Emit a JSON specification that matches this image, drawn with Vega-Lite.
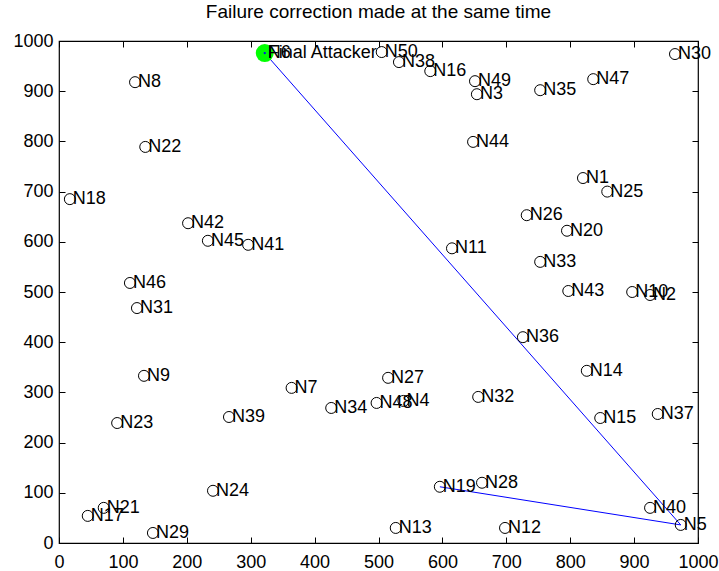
{
  "$schema": "https://vega.github.io/schema/vega-lite/v6.json",
  "width": 639,
  "height": 502,
  "autosize": "none",
  "padding": {"left": 59, "top": 41, "right": 21, "bottom": 28},
  "background": "white",
  "config": {"font": "Liberation Sans", "view": {"stroke": "black", "strokeWidth": 1.2}},
  "title": {"text": "Failure correction made at the same time", "fontSize": 19, "fontWeight": "normal", "color": "black", "offset": 10, "font": "Liberation Sans"},
  "datasets": {
    "nodes": [
      {"label": "N1", "x": 820, "y": 727},
      {"label": "N2", "x": 925, "y": 494},
      {"label": "N3", "x": 654, "y": 894},
      {"label": "N4", "x": 539, "y": 283},
      {"label": "N5", "x": 973, "y": 36},
      {"label": "N6", "x": 322, "y": 976},
      {"label": "N7", "x": 364, "y": 309},
      {"label": "N8", "x": 119, "y": 918},
      {"label": "N9", "x": 133, "y": 333},
      {"label": "N10", "x": 897, "y": 500},
      {"label": "N11", "x": 615, "y": 587},
      {"label": "N12", "x": 698, "y": 30},
      {"label": "N13", "x": 527, "y": 30},
      {"label": "N14", "x": 826, "y": 343},
      {"label": "N15", "x": 847, "y": 249},
      {"label": "N16", "x": 581, "y": 940},
      {"label": "N17", "x": 45, "y": 54},
      {"label": "N18", "x": 17, "y": 685},
      {"label": "N19", "x": 596, "y": 112},
      {"label": "N20", "x": 795, "y": 622},
      {"label": "N21", "x": 70, "y": 70},
      {"label": "N22", "x": 135, "y": 789},
      {"label": "N23", "x": 91, "y": 239},
      {"label": "N24", "x": 241, "y": 104},
      {"label": "N25", "x": 858, "y": 700},
      {"label": "N26", "x": 732, "y": 653},
      {"label": "N27", "x": 515, "y": 329},
      {"label": "N28", "x": 662, "y": 120},
      {"label": "N29", "x": 147, "y": 20},
      {"label": "N30", "x": 964, "y": 974},
      {"label": "N31", "x": 122, "y": 468},
      {"label": "N32", "x": 656, "y": 291},
      {"label": "N33", "x": 753, "y": 560},
      {"label": "N34", "x": 426, "y": 269},
      {"label": "N35", "x": 753, "y": 902},
      {"label": "N36", "x": 726, "y": 410},
      {"label": "N37", "x": 937, "y": 257},
      {"label": "N38", "x": 532, "y": 958},
      {"label": "N39", "x": 266, "y": 251},
      {"label": "N40", "x": 925, "y": 70},
      {"label": "N41", "x": 296, "y": 594},
      {"label": "N42", "x": 202, "y": 637},
      {"label": "N43", "x": 797, "y": 502},
      {"label": "N44", "x": 648, "y": 799},
      {"label": "N45", "x": 233, "y": 602},
      {"label": "N46", "x": 111, "y": 518},
      {"label": "N47", "x": 836, "y": 924},
      {"label": "N48", "x": 497, "y": 279},
      {"label": "N49", "x": 651, "y": 920},
      {"label": "N50", "x": 505, "y": 978}
    ],
    "path": [
      {"step": 1, "x": 322, "y": 976},
      {"step": 2, "x": 973, "y": 36},
      {"step": 3, "x": 596, "y": 112}
    ],
    "attacker": [
      {"label": "Final Attacker", "x": 322, "y": 976}
    ]
  },
  "layer": [
    {
      "data": {"name": "path"},
      "mark": {"type": "line", "color": "#0000ff", "strokeWidth": 1},
      "encoding": {
        "x": {"field": "x", "type": "quantitative", "scale": {"domain": [0, 1000], "nice": false},
              "axis": {"orient": "bottom", "values": [0,100,200,300,400,500,600,700,800,900,1000], "format": "d", "title": null, "grid": false, "domain": false, "offset": -6, "ticks": true, "tickColor": "black", "tickSize": 6, "tickWidth": 1, "tickOpacity": 1, "labelPadding": 10, "labelFontSize": 18, "labelColor": "black", "labelFont": "Liberation Sans", "labelFlush": false}},
        "y": {"field": "y", "type": "quantitative", "scale": {"domain": [0, 1000], "nice": false},
              "axis": {"orient": "left", "values": [0,100,200,300,400,500,600,700,800,900,1000], "format": "d", "title": null, "grid": false, "domain": false, "offset": -6, "ticks": true, "tickColor": "black", "tickSize": 6, "tickWidth": 1, "tickOpacity": 1, "labelPadding": 6, "labelFontSize": 18, "labelColor": "black", "labelFont": "Liberation Sans", "labelFlush": false}},
        "order": {"field": "step"}
      }
    },
    {
      "data": {"name": "nodes"},
      "mark": {"type": "point", "shape": "circle", "filled": false, "stroke": "black", "strokeWidth": 1, "size": 121, "opacity": 1},
      "encoding": {
        "x": {"field": "x", "type": "quantitative",
              "axis": {"orient": "top", "values": [0,100,200,300,400,500,600,700,800,900,1000], "title": null, "grid": false, "labels": false, "domain": false, "offset": -6, "ticks": true, "tickColor": "black", "tickSize": 6, "tickWidth": 1, "tickOpacity": 1}},
        "y": {"field": "y", "type": "quantitative",
              "axis": {"orient": "right", "values": [0,100,200,300,400,500,600,700,800,900,1000], "title": null, "grid": false, "labels": false, "domain": false, "offset": -6, "ticks": true, "tickColor": "black", "tickSize": 6, "tickWidth": 1, "tickOpacity": 1}}
      }
    },
    {
      "data": {"name": "attacker"},
      "mark": {"type": "point", "shape": "circle", "filled": true, "color": "#00ff00", "size": 324, "opacity": 1},
      "encoding": {
        "x": {"field": "x", "type": "quantitative", "axis": null},
        "y": {"field": "y", "type": "quantitative", "axis": null}
      }
    },
    {
      "data": {"name": "attacker"},
      "mark": {"type": "point", "shape": "circle", "filled": true, "color": "#0000ff", "size": 5, "opacity": 1},
      "encoding": {
        "x": {"field": "x", "type": "quantitative", "axis": null},
        "y": {"field": "y", "type": "quantitative", "axis": null}
      }
    },
    {
      "data": {"name": "nodes"},
      "mark": {"type": "text", "align": "left", "baseline": "middle", "dx": 3, "fontSize": 18, "color": "black", "font": "Liberation Sans"},
      "encoding": {
        "x": {"field": "x", "type": "quantitative", "axis": null},
        "y": {"field": "y", "type": "quantitative", "axis": null},
        "text": {"field": "label"}
      }
    },
    {
      "data": {"name": "attacker"},
      "mark": {"type": "text", "align": "left", "baseline": "middle", "dx": 3, "fontSize": 18, "color": "black", "font": "Liberation Sans"},
      "encoding": {
        "x": {"field": "x", "type": "quantitative", "axis": null},
        "y": {"field": "y", "type": "quantitative", "axis": null},
        "text": {"field": "label"}
      }
    }
  ],
  "resolve": {"axis": {"x": "independent", "y": "independent"}}
}
